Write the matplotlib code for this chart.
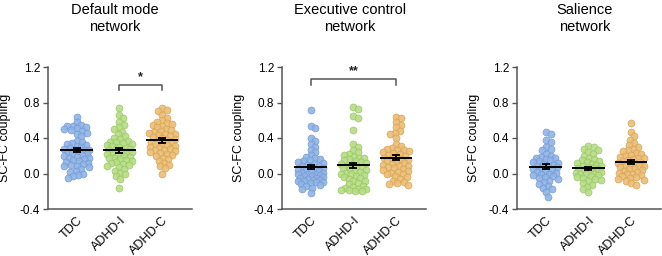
import numpy as np
import matplotlib.pyplot as plt

plt.rcParams['font.family'] = ['Liberation Sans', 'DejaVu Sans']

groups = ['TDC', 'ADHD-I', 'ADHD-C']
titles = ['Default mode\nnetwork', 'Executive control\nnetwork', 'Salience\nnetwork']

# default mode network
dmn_tdc = [0.64, 0.58, 0.55, 0.54, 0.53, 0.52, 0.51, 0.50, 0.49, 0.48, 0.46, 0.45, 0.42,
           0.37, 0.35, 0.34, 0.33, 0.32, 0.31, 0.30, 0.29, 0.28, 0.27, 0.27, 0.26, 0.25,
           0.24, 0.23, 0.22, 0.21, 0.20, 0.19, 0.18, 0.17, 0.16, 0.15, 0.14, 0.13, 0.12,
           0.11, 0.10, 0.09, 0.08, 0.07, 0.05, 0.03, 0.02, 0.00, -0.02, -0.03, -0.05]
dmn_adhdi = [0.74, 0.66, 0.62, 0.58, 0.55, 0.52, 0.50, 0.47, 0.44, 0.42, 0.40, 0.39, 0.37,
             0.36, 0.35, 0.34, 0.33, 0.32, 0.31, 0.30, 0.29, 0.28, 0.27, 0.26, 0.25, 0.24,
             0.24, 0.23, 0.22, 0.21, 0.20, 0.19, 0.18, 0.17, 0.16, 0.15, 0.14, 0.13, 0.12,
             0.11, 0.10, 0.09, 0.07, 0.05, 0.03, 0.01, -0.01, -0.03, -0.06, -0.16]
dmn_adhdc = [0.74, 0.72, 0.70, 0.66, 0.63, 0.60, 0.58, 0.57, 0.56, 0.55, 0.54, 0.52, 0.50,
             0.49, 0.48, 0.47, 0.46, 0.45, 0.44, 0.43, 0.42, 0.41, 0.40, 0.39, 0.38, 0.37,
             0.36, 0.35, 0.34, 0.33, 0.32, 0.31, 0.30, 0.29, 0.28, 0.27, 0.26, 0.25, 0.24,
             0.23, 0.22, 0.21, 0.20, 0.18, 0.16, 0.14, 0.12, 0.10, 0.08, 0.06, 0.00]

# executive control network
ecn_tdc = [0.72, 0.54, 0.51, 0.40, 0.37, 0.33, 0.30, 0.27, 0.24, 0.21, 0.19, 0.17, 0.16,
           0.15, 0.14, 0.13, 0.12, 0.11, 0.10, 0.09, 0.08, 0.07, 0.06, 0.05, 0.04, 0.04,
           0.03, 0.02, 0.01, 0.01, 0.00, -0.01, -0.01, -0.02, -0.03, -0.03, -0.04,
           -0.05, -0.05, -0.06, -0.07, -0.07, -0.08, -0.09, -0.10, -0.10, -0.11, -0.12,
           -0.13, -0.14, -0.16, -0.18, -0.22]
ecn_adhdi = [0.75, 0.73, 0.65, 0.62, 0.49, 0.33, 0.30, 0.26, 0.24, 0.22, 0.21, 0.19, 0.18,
             0.17, 0.16, 0.15, 0.14, 0.13, 0.12, 0.11, 0.10, 0.09, 0.08, 0.07, 0.06, 0.05,
             0.04, 0.03, 0.02, 0.01, 0.00, -0.01, -0.02, -0.03, -0.04, -0.05, -0.06, -0.08,
             -0.09, -0.11, -0.12, -0.14, -0.15, -0.16, -0.17, -0.18, -0.19, -0.19, -0.20, -0.20]
ecn_adhdc = [0.64, 0.62, 0.58, 0.55, 0.52, 0.48, 0.46, 0.45, 0.40, 0.33, 0.31, 0.29, 0.28,
             0.27, 0.26, 0.25, 0.24, 0.23, 0.22, 0.21, 0.20, 0.19, 0.18, 0.17, 0.16, 0.15,
             0.14, 0.13, 0.12, 0.11, 0.10, 0.09, 0.08, 0.07, 0.06, 0.05, 0.04, 0.03, 0.02,
             0.01, 0.00, -0.01, -0.03, -0.04, -0.06, -0.08, -0.10, -0.11, -0.12, -0.13]

# salience network
sn_tdc = [0.47, 0.45, 0.38, 0.36, 0.30, 0.28, 0.26, 0.22, 0.20, 0.19, 0.18, 0.17, 0.16,
          0.15, 0.14, 0.13, 0.12, 0.11, 0.10, 0.09, 0.08, 0.07, 0.06, 0.05, 0.04, 0.03,
          0.02, 0.01, 0.00, -0.01, -0.02, -0.03, -0.04, -0.05, -0.06, -0.08, -0.10, -0.12,
          -0.14, -0.16, -0.18, -0.21, -0.26]
sn_adhdi = [0.31, 0.30, 0.28, 0.26, 0.24, 0.22, 0.20, 0.18, 0.16, 0.15, 0.14, 0.13, 0.12,
            0.11, 0.10, 0.09, 0.08, 0.07, 0.06, 0.06, 0.05, 0.04, 0.03, 0.02, 0.01, 0.00,
            0.00, -0.01, -0.02, -0.03, -0.04, -0.05, -0.06, -0.07, -0.09, -0.11, -0.13,
            -0.15, -0.18, -0.21]
sn_adhdc = [0.57, 0.47, 0.42, 0.38, 0.34, 0.32, 0.30, 0.28, 0.26, 0.25, 0.23, 0.22, 0.21,
            0.20, 0.19, 0.18, 0.17, 0.16, 0.15, 0.14, 0.13, 0.12, 0.11, 0.10, 0.09, 0.08,
            0.08, 0.07, 0.06, 0.05, 0.04, 0.03, 0.02, 0.01, 0.00, -0.01, -0.02, -0.03,
            -0.04, -0.05, -0.06, -0.07, -0.09, -0.11, -0.13]

panels = [[dmn_tdc, dmn_adhdi, dmn_adhdc],
          [ecn_tdc, ecn_adhdi, ecn_adhdc],
          [sn_tdc, sn_adhdi, sn_adhdc]]

# significance brackets: (panel, from group, to group, label, y)
sig = [(0, 1, 2, '*', 1.0), (1, 0, 2, '**', 1.06)]

face = ['#8fb3e6', '#b6dc84', '#ebbd74']
edge = ['#7199d2', '#97c463', '#d4a154']


def swarm(vals, d=5.2, wmax=13.0, ysc=88.75, xsc=43.0):
    # simple beeswarm in pixel units, width capped so points may overlap
    ys = np.asarray(vals) * ysc
    cands = [0.0]
    for k in np.arange(0.25, wmax, 0.25):
        cands += [k, -k]
    px, py = [], []
    offs = np.zeros(len(ys))
    for i in np.argsort(-ys):
        best, bestd = 0.0, -1
        for c in cands:
            dm = min([np.hypot(c - a, ys[i] - b) for a, b in zip(px, py)] + [99])
            if dm >= d:
                best = c
                break
            if dm > bestd:
                best, bestd = c, dm
        offs[i] = best
        px.append(best)
        py.append(ys[i])
    return offs / xsc


fig = plt.figure(figsize=(6.62, 2.56), dpi=100)
lefts = [48, 282, 517]
title_x = [115, 350, 585]

for p in range(3):
    ax = fig.add_axes([lefts[p] / 662, 47 / 256, 144 / 662, 142 / 256])
    for g in range(3):
        v = np.array(panels[p][g])
        x = g + swarm(v)
        ax.scatter(x, v, s=25, c=face[g], edgecolors=edge[g], linewidths=0.5,
                   alpha=0.9, zorder=2)
        m = v.mean()
        se = v.std(ddof=1) / np.sqrt(len(v))
        ax.plot([g - 0.36, g + 0.36], [m, m], color='black', lw=1.4, zorder=4)
        ax.errorbar(g, m, yerr=se, color='black', capsize=3, capthick=1.3,
                    elinewidth=1.3, zorder=5)

    for s in sig:
        if s[0] == p:
            x0, x1, lab, y = s[1], s[2], s[3], s[4]
            ax.plot([x0, x0, x1, x1], [y - 0.06, y, y, y - 0.06], color='#555555',
                    lw=1.1, clip_on=False)
            ax.text((x0 + x1) / 2, y + 0.02, lab, ha='center', va='bottom',
                    fontsize=9, fontweight='bold', color='#222222')

    ax.set_xlim(-0.67, 2.7)
    ax.set_ylim(-0.4, 1.2)
    ax.set_yticks([-0.4, 0.0, 0.4, 0.8, 1.2])
    ax.set_yticklabels(['-0.4', '0.0', '0.4', '0.8', '1.2'], fontsize=8.5)
    ax.set_xticks([0, 1, 2])
    ax.set_xticklabels(groups, rotation=45, ha='right', rotation_mode='anchor',
                       fontsize=9)
    ax.tick_params(axis='x', length=0, pad=4)
    ax.tick_params(axis='y', length=3.5, width=1, color='#555555', pad=2)
    for sp in ['top', 'right']:
        ax.spines[sp].set_visible(False)
    for sp in ['left', 'bottom']:
        ax.spines[sp].set_color('#555555')
        ax.spines[sp].set_linewidth(1.1)
    ax.set_ylabel('SC-FC coupling', fontsize=9)
    ax.yaxis.set_label_coords(-0.255, 0.5)
    fig.text(title_x[p] / 662, 1 - 3 / 256, titles[p], ha='center', va='top',
             fontsize=10.5, linespacing=1.25)

fig.savefig('out.png', dpi=100)
